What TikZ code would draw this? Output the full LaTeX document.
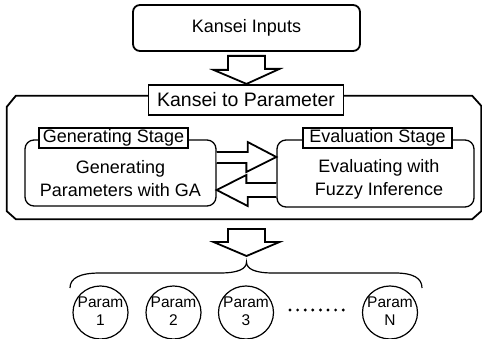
\documentclass[tikz,border=0pt]{standalone}
\usepackage{fontspec}
\setmainfont{Liberation Sans}
\usetikzlibrary{shapes.geometric,calc}

\tikzset{
  box/.style={draw, line width=1.8pt, rounded corners=7pt, inner sep=0pt},
  stagebox/.style={draw, line width=1.3pt, rounded corners=9pt, inner sep=0pt},
  tagbox/.style={draw, line width=1.8pt, fill=white, inner sep=0pt, font=\fontsize{18}{20}\selectfont},
  bodytext/.style={align=center, inner sep=0pt, font=\fontsize{18}{23}\selectfont},
  fat/.style={draw, line width=1.8pt, fill=white, line join=miter},
  param/.style={draw, ellipse, line width=1.2pt, minimum width=55pt, minimum height=53pt, inner sep=0pt},
  paramtext/.style={align=center, inner sep=0pt, font=\fontsize{15.5}{18}\selectfont},
}

\begin{document}
\begin{tikzpicture}[x=1pt,y=-1pt]
\useasboundingbox (0,0) rectangle (482,339);
% input box
\node[box, minimum width=227pt, minimum height=46pt, font=\fontsize{18}{20}\selectfont] (inputs) at (246.5,28) {Kansei Inputs};
% outer block with cut corners
\node[minimum width=474pt, minimum height=123pt, inner sep=0pt] (k2p) at (244,157.5) {};
\draw[line width=1.8pt, line join=miter] ($(k2p.north west)+(9,0)$) -- ($(k2p.north east)+(-9,0)$) -- ($(k2p.north east)+(0,10)$) -- ($(k2p.south east)+(0,-8)$) -- ($(k2p.south east)+(-9,0)$) -- ($(k2p.south west)+(9,0)$) -- ($(k2p.south west)+(0,-8)$) -- ($(k2p.north west)+(0,11)$) -- cycle;
\node[tagbox, minimum width=195pt, minimum height=30pt, font=\fontsize{19.5}{22}\selectfont] (k2plabel) at (246,100) {Kansei to Parameter};
% arrow into the block
\coordinate (tip1) at ($(inputs.south)+(0,32)$);
\draw[fat] ($(inputs.south)+(-18.5,4)$) -- ++(0,14) -- ++(-14.5,0) -- (tip1) -- ++(33,-15) -- ++(-14.5,0) -- ($(inputs.south)+(18.5,4)$) -- cycle;
% stages
\node[stagebox, minimum width=191pt, minimum height=66pt] (gen) at (120.5,173) {};
\node[bodytext] (gentext) at (120.5,179) {Generating\\Parameters with GA};
\node[tagbox, minimum width=149pt, minimum height=20pt] (genlabel) at (113.5,138) {Generating Stage};
\node[stagebox, minimum width=197pt, minimum height=67pt] (eval) at (375.5,173.5) {};
\node[bodytext] (evaltext) at (379,179) {Evaluating with\\Fuzzy Inference};
\node[tagbox, minimum width=149pt, minimum height=20pt] (evallabel) at (377.5,138) {Evaluation Stage};
% arrows between stages
\coordinate (rtip) at ($(eval.west)+(0,-16.5)$);
\draw[fat] ($(gen.east)+(0,-21)$) -- ++(31,0) -- ++(0,-10) -- (rtip) -- ++(-30,15) -- ++(0,-9) -- ($(gen.east)+(0,-10)$);
\coordinate (ltip) at ($(gen.east)+(0,17)$);
\draw[fat] ($(eval.west)+(0,9.5)$) -- ++(-30,0) -- ++(0,-8) -- (ltip) -- ++(31,16) -- ++(0,-9) -- ($(eval.west)+(0,23.5)$);
% arrow out of the block
\coordinate (fork) at (246.5,262);
\coordinate (tip2) at ($(fork)+(0,-6)$);
\draw[fat] ($(fork)+(-18.5,-33)$) -- ++(0,13) -- ++(-14.5,0) -- (tip2) -- ++(33,-14) -- ++(-14.5,0) -- ($(fork)+(18.5,-33)$) -- cycle;
% brace over the parameters
\draw[line width=1.2pt] (70,288) .. controls (70,278) and (80,273) .. (100,273) -- (220,273) .. controls (238,273) and (246.5,269) .. (fork) .. controls (246.5,269) and (255,273) .. (273,273) -- (395,273) .. controls (413,273) and (422,278) .. (422,288);
% parameters
\node[param] (p1) at (100.5,312.5) {};
\node[param] (p2) at (173.5,312.5) {};
\node[param] (p3) at (246,312.5) {};
\node[param] (pn) at (390,312.5) {};
\node[paramtext] (t1) at ($(p1)+(0,-1)$) {Param\\1};
\node[paramtext] (t2) at ($(p2)+(0,-1)$) {Param\\2};
\node[paramtext] (t3) at ($(p3)+(0,-1)$) {Param\\3};
\node[paramtext] (tn) at ($(pn)+(0,-1)$) {Param\\N};
\foreach \i in {0,...,7}
  \fill (290+\i*7.6,310) circle (1.6pt);
\end{tikzpicture}
\end{document}
